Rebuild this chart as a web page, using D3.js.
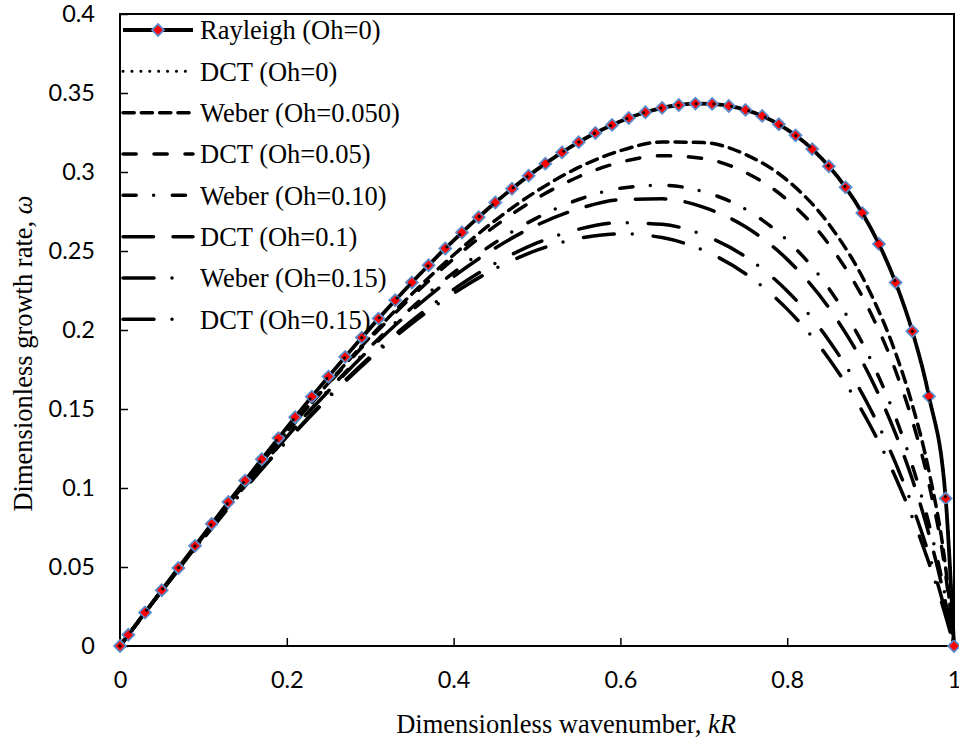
<!DOCTYPE html>
<html>
<head>
  <meta charset="utf-8">
  <script src="https://cdn.jsdelivr.net/npm/d3@7"></script>
  <style>
    body { margin: 0; background: #fff; }
    svg { display: block; }
  </style>
</head>
<body>
  <svg id="chart" width="959" height="742"></svg>
  <script>
    // tick labels
    var xTicks = [0, 0.2, 0.4, 0.6, 0.8, 1];
    var yTicks = [0, 0.05, 0.1, 0.15, 0.2, 0.25, 0.3, 0.35, 0.4];

    // Rayleigh (Oh=0), marker points
    var rayleighK = [0, 0.01, 0.03, 0.05, 0.07, 0.09, 0.11, 0.13, 0.15, 0.17, 0.19, 0.21, 0.23, 0.25, 0.27, 0.29,
      0.31, 0.33, 0.35, 0.37, 0.39, 0.41, 0.43, 0.45, 0.47, 0.49, 0.51, 0.53, 0.55, 0.57, 0.59, 0.61, 0.63,
      0.65, 0.67, 0.69, 0.71, 0.73, 0.75, 0.77, 0.79, 0.81, 0.83, 0.85, 0.87, 0.89, 0.91, 0.93, 0.95, 0.97, 0.99, 1];
    var rayleighW = [0, 0.0071, 0.0212, 0.0353, 0.0494, 0.0634, 0.0773, 0.0911, 0.1047, 0.1182, 0.1316, 0.1448,
      0.1578, 0.1705, 0.1830, 0.1952, 0.2072, 0.2188, 0.2301, 0.2410, 0.2516, 0.2617, 0.2714, 0.2807, 0.2894,
      0.2977, 0.3053, 0.3124, 0.3189, 0.3247, 0.3298, 0.3342, 0.3378, 0.3406, 0.3424, 0.3433, 0.3431, 0.3418,
      0.3393, 0.3355, 0.3302, 0.3232, 0.3145, 0.3036, 0.2903, 0.2741, 0.2544, 0.2300, 0.1992, 0.1580, 0.0934, 0];

    // other series share one kR grid
    var kGrid = [0, 0.05, 0.1, 0.15, 0.2, 0.25, 0.3, 0.35, 0.4, 0.45, 0.5, 0.55, 0.6, 0.65, 0.7, 0.75, 0.8, 0.85,
      0.9, 0.93, 0.95, 0.97, 0.99, 1];
    var dct0 = [0, 0.0353, 0.0703, 0.1047, 0.1382, 0.1705, 0.2012, 0.2301, 0.2567, 0.2807, 0.3016, 0.3189, 0.3321,
      0.3406, 0.3433, 0.3393, 0.3269, 0.3036, 0.2647, 0.2300, 0.1992, 0.1580, 0.0934, 0];
    var weber005 = [0, 0.0351, 0.0696, 0.1032, 0.1356, 0.1665, 0.1957, 0.2228, 0.2475, 0.2694, 0.2880, 0.3029, 0.3135,
      0.3190, 0.3186, 0.3111, 0.2948, 0.2670, 0.2232, 0.1854, 0.1527, 0.1105, 0.0496, 0];
    var dct005 = [0, 0.0351, 0.0696, 0.1030, 0.1353, 0.1659, 0.1946, 0.2211, 0.2450, 0.2659, 0.2834, 0.2970, 0.3062,
      0.3103, 0.3085, 0.2997, 0.2824, 0.2542, 0.2109, 0.1741, 0.1427, 0.1025, 0.0454, 0];
    var weber010 = [0, 0.0349, 0.0689, 0.1015, 0.1327, 0.1620, 0.1893, 0.2142, 0.2363, 0.2554, 0.2710, 0.2826, 0.2897,
      0.2916, 0.2875, 0.2764, 0.2567, 0.2263, 0.1813, 0.1446, 0.1143, 0.0773, 0.0301, 0];
    var dct010 = [0, 0.0349, 0.0688, 0.1014, 0.1324, 0.1614, 0.1882, 0.2124, 0.2338, 0.2519, 0.2664, 0.2767, 0.2825,
      0.2830, 0.2776, 0.2653, 0.2447, 0.2140, 0.1698, 0.1343, 0.1055, 0.0707, 0.0272, 0];
    var weber015 = [0, 0.0347, 0.0681, 0.0999, 0.1299, 0.1577, 0.1831, 0.2059, 0.2257, 0.2422, 0.2551, 0.2638, 0.2679,
      0.2669, 0.2600, 0.2464, 0.2247, 0.1934, 0.1497, 0.1157, 0.0889, 0.0578, 0.0211, 0];
    var dct015 = [0, 0.0347, 0.0681, 0.0998, 0.1295, 0.1570, 0.1820, 0.2042, 0.2232, 0.2388, 0.2505, 0.2580, 0.2609,
      0.2585, 0.2503, 0.2356, 0.2132, 0.1818, 0.1391, 0.1067, 0.0814, 0.0525, 0.0190, 0];

    var legendNames = ["Rayleigh (Oh=0)", "DCT (Oh=0)", "Weber (Oh=0.050)", "DCT (Oh=0.05)",
      "Weber (Oh=0.10)", "DCT (Oh=0.1)", "Weber (Oh=0.15)", "DCT (Oh=0.15)"];

    var svg = d3.select("#chart");
    var plotL = 120, plotR = 954, plotT = 14, plotB = 646;

    var x = d3.scaleLinear().domain([0, 1]).range([plotL, plotR]);
    var y = d3.scaleLinear().domain([0, 0.4]).range([plotB, plotT]);

    // line styles, same order as legendNames
    var styles = [
      { dash: null, w: 3.8 },
      { dash: "0.1,8.8", w: 3 },
      { dash: "11.2,7.1", w: 3.5 },
      { dash: "13.2,17.8", w: 3.5 },
      { dash: "13.2,17.4,0,18.7", w: 3.5 },
      { dash: "30.5,19.5", w: 3.5 },
      { dash: "31,18,0,21", w: 3.5 },
      { dash: "31,18,0,21", w: 3.5 }
    ];

    var viscous = [weber005, dct005, weber010, dct010, weber015, dct015];

    var line = d3.line()
      .x(function(d) { return x(d[0]); })
      .y(function(d) { return y(d[1]); })
      .curve(d3.curveMonotoneX);

    // axes with inward ticks
    var fontSans = "Lato, 'Open Sans', sans-serif";
    var xAxis = svg.append("g")
      .attr("transform", "translate(0," + plotB + ")")
      .call(d3.axisBottom(x).tickValues(xTicks).tickSize(-8).tickPadding(25)
        .tickFormat(function(d) { return d3.format("")(d); }));
    var yAxis = svg.append("g")
      .attr("transform", "translate(" + plotL + ",0)")
      .call(d3.axisLeft(y).tickValues(yTicks).tickSize(-8).tickPadding(25)
        .tickFormat(function(d) { return d3.format("")(d); }));
    [xAxis, yAxis].forEach(function(g) {
      g.select(".domain").remove();
      g.selectAll(".tick line").attr("stroke", "#000").attr("stroke-width", 1.5);
      g.selectAll(".tick text").attr("font-family", fontSans).attr("font-size", 23.5).attr("fill", "#000");
    });

    // plot frame
    svg.append("rect")
      .attr("x", plotL).attr("y", plotT)
      .attr("width", plotR - plotL).attr("height", plotB - plotT)
      .attr("fill", "none").attr("stroke", "#000").attr("stroke-width", 2);

    // viscous curves
    viscous.forEach(function(vals, i) {
      var st = styles[i + 2];
      svg.append("path")
        .datum(kGrid.map(function(k, j) { return [k, vals[j]]; }))
        .attr("d", line)
        .attr("fill", "none")
        .attr("stroke", "#000")
        .attr("stroke-width", st.w)
        .attr("stroke-linecap", "round")
        .attr("stroke-dasharray", st.dash);
    });

    // Rayleigh line + diamonds
    var rayPts = rayleighK.map(function(k, j) { return [k, rayleighW[j]]; });
    svg.append("path")
      .datum(rayPts)
      .attr("d", line)
      .attr("fill", "none")
      .attr("stroke", "#000")
      .attr("stroke-width", styles[0].w);

    var diamond = d3.symbol().type(d3.symbolSquare).size(70);
    svg.selectAll(".marker")
      .data(rayPts)
      .enter()
      .append("path")
      .attr("class", "marker")
      .attr("d", diamond)
      .attr("transform", function(d) { return "translate(" + x(d[0]) + "," + y(d[1]) + ") rotate(45)"; })
      .attr("fill", "#ff0000")
      .attr("stroke", "#5b8bc9")
      .attr("stroke-width", 1.8);

    // DCT (Oh=0) dotted on top
    svg.append("path")
      .datum(kGrid.map(function(k, j) { return [k, dct0[j]]; }))
      .attr("d", line)
      .attr("fill", "none")
      .attr("stroke", "#000")
      .attr("stroke-width", styles[1].w)
      .attr("stroke-linecap", "round")
      .attr("stroke-dasharray", styles[1].dash);

    // legend
    var lg = svg.append("g").attr("font-family", "'Liberation Serif', 'Times New Roman', serif").attr("font-size", 26.5);
    legendNames.forEach(function(name, i) {
      var ly = 30 + i * 41.33;
      var st = styles[i];
      lg.append("line")
        .attr("x1", 123).attr("x2", 193).attr("y1", ly).attr("y2", ly)
        .attr("stroke", "#000")
        .attr("stroke-width", st.w)
        .attr("stroke-linecap", st.dash ? "round" : "butt")
        .attr("stroke-dasharray", st.dash);
      if (i === 0) {
        lg.append("path")
          .attr("d", diamond)
          .attr("transform", "translate(158," + ly + ") rotate(45)")
          .attr("fill", "#ff0000")
          .attr("stroke", "#5b8bc9")
          .attr("stroke-width", 1.8);
      }
      lg.append("text")
        .attr("x", 200).attr("y", ly + 9.3)
        .text(name);
    });

    // axis titles
    var xt = svg.append("text")
      .attr("x", 566).attr("y", 733)
      .attr("text-anchor", "middle")
      .attr("font-family", "'Liberation Serif', 'Times New Roman', serif")
      .attr("font-size", 26.5);
    xt.append("tspan").text("Dimensionless wavenumber, ");
    xt.append("tspan").attr("font-style", "italic").text("kR");

    var yt = svg.append("text")
      .attr("transform", "translate(31.5,353.5) rotate(-90)")
      .attr("text-anchor", "middle")
      .attr("font-family", "'Liberation Serif', 'Times New Roman', serif")
      .attr("font-size", 26.5);
    yt.append("tspan").text("Dimensionless growth rate, ");
    yt.append("tspan").attr("font-style", "italic").text("ω");
  </script>
</body>
</html>
